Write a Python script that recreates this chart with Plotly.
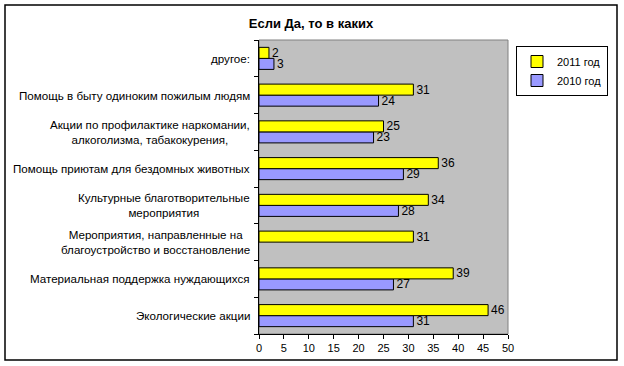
import plotly.graph_objects as go

categories = [
    "Экологические акции",
    "Материальная поддержка нуждающихся",
    "Мероприятия, направленные на<br>благоустройство и восстановление",
    "Культурные благотворительные<br>мероприятия",
    "Помощь приютам для бездомных животных",
    "Акции по профилактике наркомании,<br>алкоголизма, табакокурения,",
    "Помощь в быту одиноким пожилым людям",
    "другое:",
]
values_2011 = [46, 39, 31, 34, 36, 25, 31, 2]
values_2010 = [31, 27, None, 28, 29, 23, 24, 3]
x_ticks = [0, 5, 10, 15, 20, 25, 30, 35, 40, 45, 50]

FONT = "Liberation Sans, Arial, sans-serif"

fig = go.Figure()
fig.add_trace(go.Bar(
    name="2010 год", y=categories, x=values_2010, orientation="h",
    marker=dict(color="#9999FF", line=dict(color="black", width=1)),
    text=[("" if v is None else str(v)) for v in values_2010],
    textposition="outside", cliponaxis=False, constraintext="none",
    textfont=dict(family=FONT, size=12, color="black"),
))
fig.add_trace(go.Bar(
    name="2011 год", y=categories, x=values_2011, orientation="h",
    marker=dict(color="#FFFF00", line=dict(color="black", width=1)),
    text=[str(v) for v in values_2011],
    textposition="outside", cliponaxis=False, constraintext="none",
    textfont=dict(family=FONT, size=12, color="black"),
))

L, R, T, B = 259, 116, 40, 32
W, H = 624, 366
pw = W - L - R
ph = H - T - B

annotations = []
for c in categories:
    annotations.append(dict(
        x=0, xref="paper", y=c, yref="y", text=c, showarrow=False,
        xanchor="right", yanchor="middle", align="center", xshift=-7,
        font=dict(family=FONT, size=11.6, color="black"),
    ))

shapes = [
    # outer chart border
    dict(type="rect", xref="paper", yref="paper",
         x0=(5 - L) / pw, x1=(617 - L) / pw,
         y0=(H - B - 360) / ph, y1=(H - B - 5) / ph,
         line=dict(color="black", width=1.5), fillcolor="rgba(0,0,0,0)", layer="below"),
    # plot area border
    dict(type="rect", xref="paper", yref="paper", x0=0, x1=1, y0=0, y1=1,
         line=dict(color="#808080", width=1), fillcolor="rgba(0,0,0,0)", layer="below"),
]

fig.update_layout(
    width=W, height=H,
    margin=dict(l=L, r=R, t=T, b=B, autoexpand=False),
    paper_bgcolor="white", plot_bgcolor="#C0C0C0",
    barmode="group", bargap=0.4, bargroupgap=0,
    title=dict(text="<b>Если Да, то в каких</b>", x=311 / W, y=1 - 23 / H,
               xanchor="center", yanchor="middle",
               font=dict(family=FONT, size=13, color="black")),
    showlegend=True,
    legend=dict(x=(516 - L) / pw, y=(H - B - 46) / ph, xanchor="left", yanchor="top",
                traceorder="reversed", bordercolor="black", borderwidth=1,
                bgcolor="white", font=dict(family=FONT, size=11, color="black"),
                itemwidth=30, tracegroupgap=0),
    xaxis=dict(range=[0, 50], tickvals=x_ticks, ticks="outside", ticklen=4,
               tickcolor="black", showgrid=False, zeroline=False,
               showline=True, linecolor="black", linewidth=1,
               tickfont=dict(family=FONT, size=11, color="black")),
    yaxis=dict(categoryorder="array", categoryarray=categories,
               showticklabels=False, ticks="outside", ticklen=4, tickson="boundaries",
               tickcolor="black", showgrid=False, zeroline=False,
               showline=True, linecolor="black", linewidth=1),
    annotations=annotations,
    shapes=shapes,
)

fig.write_html(
    "out.html",
    config={"displayModeBar": False},
    post_script="document.body.style.margin='0';document.body.style.overflow='hidden';",
)
